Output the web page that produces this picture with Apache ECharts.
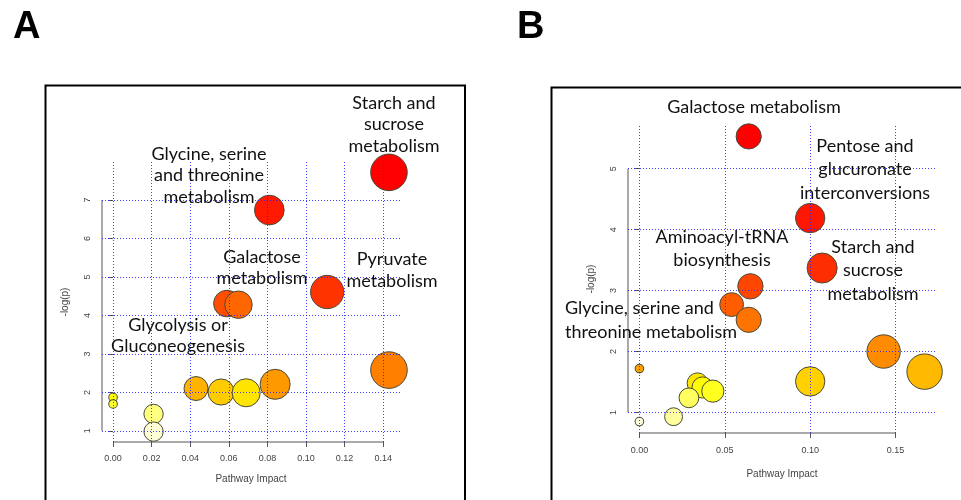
<!DOCTYPE html>
<html lang="en">
<head>
  <meta charset="UTF-8">
  <title>Pathway impact</title>
  <script src="https://cdn.jsdelivr.net/npm/echarts@6/dist/echarts.min.js"></script>
  <style>
    * { margin: 0; padding: 0; }
    body { background: #fff; }
    #chart { width: 961px; height: 500px; }
  </style>
</head>
<body>
  <div id="chart"></div>
  <script>
    // ---- panel A ----
    var impactA = [0.000, 0.000, 0.021, 0.021, 0.043, 0.056, 0.069, 0.084, 0.059, 0.065, 0.081, 0.111, 0.143, 0.143];
    var logpA   = [1.87, 1.70, 1.44, 0.98, 2.10, 2.01, 1.99, 2.21, 4.31, 4.28, 6.74, 4.61, 7.72, 2.58];
    var xTicksA = [0, 0.02, 0.04, 0.06, 0.08, 0.10, 0.12, 0.14];
    var yTicksA = [1, 2, 3, 4, 5, 6, 7];
    var notesA = ['Starch and\nsucrose\nmetabolism', 'Glycine, serine\nand threonine\nmetabolism',
      'Galactose\nmetabolism', 'Pyruvate\nmetabolism', 'Glycolysis or\nGluconeogenesis'];

    // ---- panel B ----
    var impactB = [0.064, 0.100, 0.107, 0.054, 0.065, 0.064, 0.143, 0.167, 0.100, 0.000, 0.034, 0.037, 0.043, 0.029, 0.020, 0.000];
    var logpB   = [5.53, 4.19, 3.37, 2.77, 3.07, 2.52, 2.00, 1.67, 1.51, 1.72, 1.48, 1.41, 1.35, 1.24, 0.93, 0.85];
    var xTicksB = [0, 0.05, 0.10, 0.15];
    var yTicksB = [1, 2, 3, 4, 5];
    var notesB = ['Galactose metabolism', 'Pentose and\nglucuronate\ninterconversions',
      'Aminoacyl-tRNA\nbiosynthesis', 'Starch and\nsucrose\nmetabolism', 'Glycine, serine and\nthreonine metabolism'];

    // where the notes sit (pixel layout, not data)
    var notePosA = [[394, 92, 'center'], [209, 143, 'center'], [262, 246, 'center'], [392, 248.5, 'center'], [178, 314, 'center']];
    var notePosB = [[754, 95, 'center'], [865, 134, 'center'], [722, 225, 'center'], [873, 235, 'center'], [565, 296.5, 'left']];

    // R heat.colors(n)
    function heatColors(n) {
      var j = Math.floor(n / 4), i = n - j, out = [];
      function hex(v) { var s = Math.round(v * 255).toString(16); return s.length < 2 ? '0' + s : s; }
      for (var k = 0; k < i; k++) {
        var h = i > 1 ? k / (i - 1) / 6 : 0;   // hue 0..1/6 -> red..yellow
        out.push('#ff' + hex(h * 6) + '00');
      }
      for (var m = 0; m < j; m++) {
        var s0 = 1 - 1 / (2 * j), s1 = 1 / (2 * j);
        var s = j > 1 ? s0 + (s1 - s0) * m / (j - 1) : s0;
        out.push('#ffff' + hex(1 - s));
      }
      return out;
    }

    // colour by rank of -log(p), highest = red
    function rankColors(y) {
      var pal = heatColors(y.length);
      var idx = y.map(function (v, i) { return i; }).sort(function (a, b) { return y[b] - y[a]; });
      var col = [];
      idx.forEach(function (p, r) { col[p] = pal[r]; });
      return col;
    }

    function padRange(arr) {
      var lo = Math.min.apply(null, arr), hi = Math.max.apply(null, arr), d = (hi - lo) * 0.04;
      return [lo - d, hi + d];
    }

    function panel(k, x, y, xTicks, yTicks, rMax, xLabelGap, xNameGap) {
      var xr = padRange(x), yr = padRange(y);
      var xMax = Math.max.apply(null, x);
      var cols = rankColors(y);
      var pts = x.map(function (v, i) {
        var r = 4.3 + (rMax - 4.3) * Math.sqrt(v / xMax);
        return { value: [v, y[i]], symbolSize: 2 * r, itemStyle: { color: cols[i] } };
      });
      var tickFont = { fontFamily: 'Liberation Sans', fontSize: 9, color: '#444' };
      var xAxis = {
        gridIndex: k, type: 'value', min: xr[0], max: xr[1],
        axisLine: { show: false }, splitLine: { show: false },
        axisTick: { customValues: xTicks, length: 5, lineStyle: { color: '#555' } },
        axisLabel: Object.assign({ customValues: xTicks, margin: xLabelGap,
          formatter: function (v) { return v.toFixed(2); } }, tickFont),
        name: 'Pathway Impact', nameLocation: 'middle', nameGap: xNameGap,
        nameTextStyle: { fontFamily: 'Liberation Sans', fontSize: 10, color: '#444' }
      };
      var yAxis = {
        gridIndex: k, type: 'value', min: yr[0], max: yr[1],
        axisLine: { show: false }, splitLine: { show: false },
        axisTick: { customValues: yTicks, length: 5, lineStyle: { color: '#555' } },
        axisLabel: Object.assign({ customValues: yTicks, margin: 10, rotate: 90 }, tickFont),
        name: '-log(p)', nameLocation: 'middle', nameGap: 32,
        nameTextStyle: { fontFamily: 'Liberation Sans', fontSize: 10, color: '#444' }
      };
      var gridLines = xTicks.map(function (v) { return { xAxis: v }; })
        .concat(yTicks.map(function (v) { return { yAxis: v }; }));
      var series = [
        {
          type: 'line', xAxisIndex: k, yAxisIndex: k, z: 1, silent: true, clip: false,
          symbol: 'none', lineStyle: { color: '#555', width: 1 },
          data: [[xTicks[0], yr[0]], [xTicks[xTicks.length - 1], yr[0]]],
          markLine: {
            silent: true, symbol: 'none', label: { show: false }, animation: false,
            lineStyle: { color: '#1f1fff', width: 1, type: [1, 2], opacity: 0.85 },
            data: gridLines
          }
        },
        {
          type: 'line', xAxisIndex: k, yAxisIndex: k, z: 1, silent: true, clip: false,
          symbol: 'none', lineStyle: { color: '#555', width: 1 },
          data: [[xr[0], yTicks[0]], [xr[0], yTicks[yTicks.length - 1]]]
        },
        {
          type: 'scatter', xAxisIndex: k, yAxisIndex: k, z: 3, silent: true,
          itemStyle: { borderColor: '#4a4a3a', borderWidth: 1, opacity: 1 },
          data: pts
        }
      ];
      return { xAxis: xAxis, yAxis: yAxis, series: series };
    }

    function notes(texts, pos, lh) {
      return texts.map(function (t, i) {
        return {
          type: 'text', z: 10, silent: true,
          style: {
            text: t, x: pos[i][0], y: pos[i][1], font: '18px Lato', fill: '#111',
            textAlign: pos[i][2], textVerticalAlign: 'top', lineHeight: lh
          }
        };
      });
    }

    var pA = panel(0, impactA, logpA, xTicksA, yTicksA, 18.3, 12, 32);
    var pB = panel(1, impactB, logpB, xTicksB, yTicksB, 17.7, 13, 36);

    var chart = echarts.init(document.getElementById('chart'));
    chart.setOption({
      animation: false,
      backgroundColor: '#fff',
      grid: [
        { left: 102, top: 162, width: 298, height: 280 },
        { left: 628, top: 125, width: 308, height: 308 }
      ],
      xAxis: [pA.xAxis, pB.xAxis],
      yAxis: [pA.yAxis, pB.yAxis],
      series: pA.series.concat(pB.series),
      graphic: [
        { type: 'rect', silent: true, shape: { x: 45.5, y: 85.5, width: 419.5, height: 500 },
          style: { fill: 'none', stroke: '#000', lineWidth: 2 } },
        { type: 'rect', silent: true, shape: { x: 551.5, y: 87.5, width: 500, height: 500 },
          style: { fill: 'none', stroke: '#000', lineWidth: 2 } },
        { type: 'text', silent: true, style: { text: 'A', x: 13, y: 28, font: 'bold 38px "Liberation Sans"',
          fill: '#000', textAlign: 'left', textVerticalAlign: 'middle' } },
        { type: 'text', silent: true, style: { text: 'B', x: 517, y: 28, font: 'bold 38px "Liberation Sans"',
          fill: '#000', textAlign: 'left', textVerticalAlign: 'middle' } }
      ].concat(notes(notesA, notePosA, 21.5)).concat(notes(notesB, notePosB, 23.7))
    });
  </script>
</body>
</html>
